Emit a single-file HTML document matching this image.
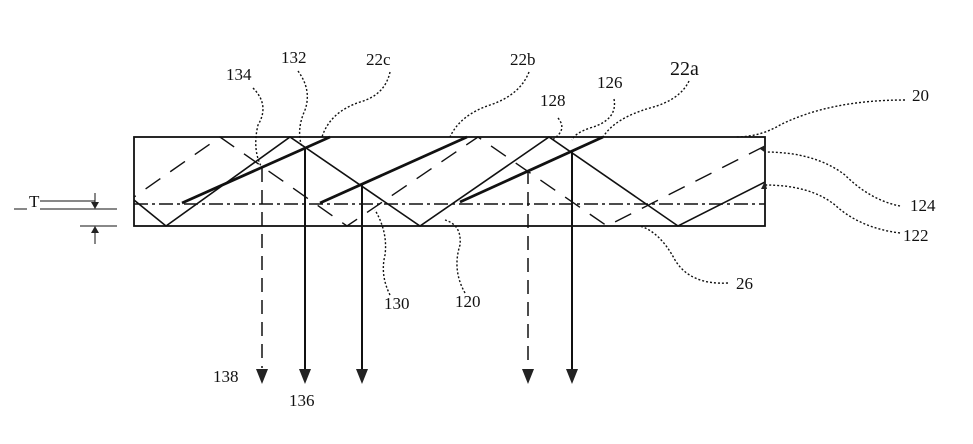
<!DOCTYPE html>
<html><head><style>
html,body{margin:0;padding:0;background:#fff;width:973px;height:444px;overflow:hidden}
text{font-family:"Liberation Serif",serif;font-size:17px;fill:#111}
</style></head><body>
<svg width="973" height="444" viewBox="0 0 973 444" xmlns="http://www.w3.org/2000/svg">
<g fill="none" stroke="#111">
<rect x="134" y="137" width="631" height="89" stroke-width="1.8"/>
<line x1="134" y1="204" x2="765" y2="204" stroke-width="1.4" stroke-dasharray="14,4,3,4"/>
<polyline points="765,182 678,226 549,137 420,226 290,137 166,226 134,200" stroke-width="1.6"/>
<polyline points="765,146 607,226 478,137 347,226 220,137 134,197" stroke-width="1.4" stroke-dasharray="18,12"/>
<line x1="182" y1="203" x2="330" y2="137" stroke-width="2.8"/>
<line x1="320" y1="203" x2="467" y2="137" stroke-width="2.8"/>
<line x1="460" y1="202" x2="603" y2="137" stroke-width="2.8"/>
<line x1="262" y1="168" x2="262" y2="368" stroke-width="1.5" stroke-dasharray="14,8"/>
<line x1="305" y1="147" x2="305" y2="372" stroke-width="2"/>
<line x1="362" y1="185" x2="362" y2="372" stroke-width="2"/>
<line x1="528" y1="170" x2="528" y2="368" stroke-width="1.5" stroke-dasharray="14,8"/>
<line x1="572" y1="152" x2="572" y2="372" stroke-width="2"/>
<g stroke-width="1.4" stroke-dasharray="2,2">
<path d="M253,88 Q270,105 258,125 Q252,150 262,168"/>
<path d="M298,71 Q312,90 305,110 Q296,130 302,147"/>
<path d="M390,72 Q385,95 360,102 Q330,112 322,137"/>
<path d="M529,72 Q520,95 490,105 Q460,115 450,137"/>
<path d="M558,118 Q568,130 552,140"/>
<path d="M614,99 Q618,120 590,128 Q575,133 572,140"/>
<path d="M689,81 Q680,100 650,108 Q615,118 603,137"/>
<path d="M905,100 Q830,100 780,125 Q760,137 735,137"/>
<path d="M900,206 Q870,200 845,175 Q815,152 765,152"/>
<path d="M900,233 Q860,228 835,205 Q810,185 765,185"/>
<path d="M728,283 Q690,285 675,260 Q660,232 640,226"/>
<path d="M390,295 Q380,275 385,255 Q388,232 375,210"/>
<path d="M465,293 Q452,270 460,245 Q462,225 445,220"/>
</g>
<line x1="14" y1="209" x2="27" y2="209" stroke-width="1"/>
<line x1="40" y1="201" x2="95" y2="201" stroke-width="1"/>
<line x1="40" y1="209" x2="117" y2="209" stroke-width="1"/>
<line x1="80" y1="226" x2="117" y2="226" stroke-width="1"/>
<line x1="95" y1="193" x2="95" y2="203" stroke-width="1"/>
<line x1="95" y1="232" x2="95" y2="244" stroke-width="1"/>
</g>
<g fill="#222">
<polygon points="91,202 99,202 95,209"/>
<polygon points="91,233 99,233 95,226"/>
<polygon points="256,369 268,369 262,384"/>
<polygon points="299,369 311,369 305,384"/>
<polygon points="356,369 368,369 362,384"/>
<polygon points="522,369 534,369 528,384"/>
<polygon points="566,369 578,369 572,384"/>
<polygon points="761,189 767,189 765,181"/>
<polygon points="760,149 766,153 765,145"/>
</g>
<text x="29" y="207">T</text>
<text x="226" y="80">134</text>
<text x="281" y="63">132</text>
<text x="366" y="65">22c</text>
<text x="510" y="65">22b</text>
<text x="540" y="106">128</text>
<text x="597" y="88">126</text>
<text x="670" y="75" style="font-size:20px">22a</text>
<text x="912" y="101">20</text>
<text x="910" y="211">124</text>
<text x="903" y="241">122</text>
<text x="736" y="289">26</text>
<text x="384" y="309">130</text>
<text x="455" y="307">120</text>
<text x="213" y="382">138</text>
<text x="289" y="406">136</text>
</svg>
</body></html>
